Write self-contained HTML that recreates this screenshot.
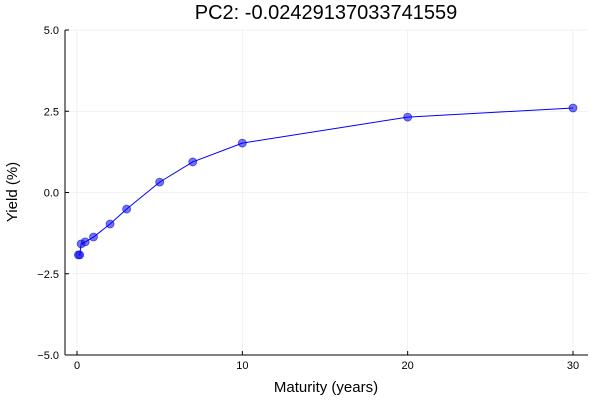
<!DOCTYPE html>
<html><head><meta charset="utf-8"><style>
body{margin:0;background:#fff;font-family:"Liberation Sans",sans-serif}
</style></head><body>
<svg id="c" width="600" height="400" xmlns="http://www.w3.org/2000/svg"></svg>
<script>
const maturities=[0.0833,0.1667,0.25,0.5,1,2,3,5,7,10,20,30];
const yields=[-1.92,-1.92,-1.58,-1.52,-1.37,-0.97,-0.51,0.32,0.94,1.52,2.32,2.6];
const xTicks=[0,10,20,30];
const yTicks=[-5,-2.5,0,2.5,5];
const yTickLabels=["\u22125.0","\u22122.5","0.0","2.5","5.0"];
const svg=document.getElementById('c');
const NS='http://www.w3.org/2000/svg';
const L=65,R=588,T=30,B=355;
const xs=v=>77+v*(573-77)/30;
const ys=v=>192.5-v*32.5;
function mk(tag,attrs,name,text){const e=document.createElementNS(NS,tag);for(const k in attrs)e.setAttribute(k,attrs[k]);


if(text!==undefined)e.textContent=text;svg.appendChild(e);return e;}
xTicks.forEach(t=>{mk('line',{x1:xs(t),x2:xs(t),y1:T,y2:B,stroke:'#000','stroke-opacity':0.1,'stroke-width':0.5},'x-grid-line');
mk('line',{x1:xs(t),x2:xs(t),y1:B,y2:B-4,stroke:'#000','stroke-width':1},'x-tick');
mk('text',{x:xs(t),y:B+14,'text-anchor':'middle','font-size':11,fill:'#000'},'x-tick-label',String(t));});
yTicks.forEach((t,i)=>{mk('line',{x1:L,x2:R,y1:ys(t),y2:ys(t),stroke:'#000','stroke-opacity':0.1,'stroke-width':0.5},'y-grid-line');
mk('line',{x1:L,x2:L+4,y1:ys(t),y2:ys(t),stroke:'#000','stroke-width':1},'y-tick');
mk('text',{x:L-6,y:ys(t)+4,'text-anchor':'end','font-size':11,fill:'#000'},'y-tick-label',yTickLabels[i]);});
mk('line',{x1:L,x2:L,y1:T,y2:B,stroke:'#000','stroke-width':1},'y-axis');
mk('line',{x1:L,x2:R,y1:B,y2:B,stroke:'#000','stroke-width':1},'x-axis');
mk('polyline',{points:maturities.map((m,i)=>xs(m)+','+ys(yields[i])).join(' '),fill:'none',stroke:'#0000ff','stroke-width':1},'yield-line');
maturities.forEach((m,i)=>mk('circle',{cx:xs(m),cy:ys(yields[i]),r:4,fill:'#0000ff','fill-opacity':0.55,stroke:'#0000aa','stroke-opacity':0.6,'stroke-width':0.8},'yield-point'));
mk('text',{x:326,y:19,'text-anchor':'middle','font-size':20,fill:'#000'},'chart-title','PC2: -0.02429137033741559');
mk('text',{x:326,y:392,'text-anchor':'middle','font-size':15,fill:'#000'},'x-axis-title','Maturity (years)');
mk('text',{x:17,y:192,'text-anchor':'middle','font-size':15,fill:'#000',transform:'rotate(-90 17 192)'},'y-axis-title','Yield (%)');
</script>
</body></html>
